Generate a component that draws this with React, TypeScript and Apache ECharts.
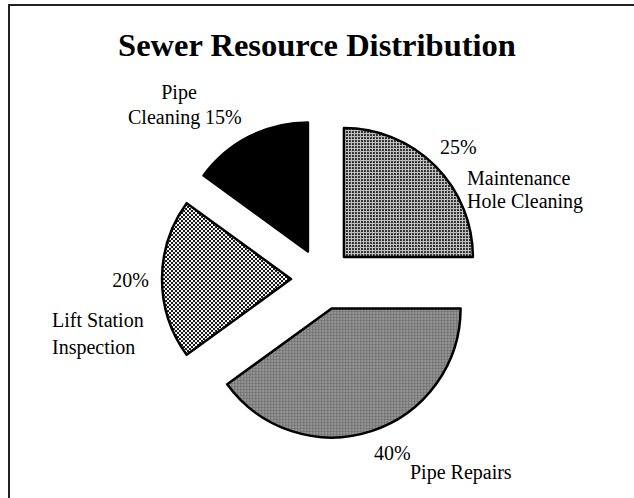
import React, { useEffect, useRef } from "react";
import * as echarts from "echarts";

const categories = [
  "Maintenance Hole Cleaning",
  "Pipe Repairs",
  "Lift Station Inspection",
  "Pipe Cleaning",
];
const values = [25, 40, 20, 15];
const nameLines = [
  ["Maintenance", "Hole Cleaning"],
  ["Pipe Repairs"],
  ["Lift Station", "Inspection"],
  ["Pipe", "Cleaning"],
];

const FONT = "'Liberation Serif', 'Times New Roman', serif";

// label placement: percent anchor, name line anchors [x, y, align]
const pctPos: [number, number, string][] = [
  [440, 147, "left"],
  [374, 453, "left"],
  [149, 280, "right"],
  [205, 117, "left"],
];
const namePos: [number, number, string][][] = [
  [[467, 178, "left"], [467, 201, "left"]],
  [[410, 472, "left"]],
  [[52, 320, "left"], [52, 347, "left"]],
  [[179, 92, "center"], [128, 117, "left"]],
];

function makePattern(size: number, pixel: (x: number, y: number) => string) {
  const c = document.createElement("canvas");
  c.width = size;
  c.height = size;
  const ctx = c.getContext("2d")!;
  for (let y = 0; y < size; y++) {
    for (let x = 0; x < size; x++) {
      ctx.fillStyle = pixel(x, y);
      ctx.fillRect(x, y, 1, 1);
    }
  }
  return { image: c, repeat: "repeat", imageWidth: size, imageHeight: size };
}

export default function App() {
  const ref = useRef<HTMLDivElement>(null);
  useEffect(() => {
    if (!ref.current) return;
    const chart = echarts.init(ref.current, null, { renderer: "svg" });

    const patterns: any[] = [
      makePattern(3, (x, y) => (x === 2 || y === 2 ? "#c8c8c8" : "#2a2a2a")),
      makePattern(3, (x, y) => (x === 1 && y === 1 ? "#b8b8b8" : (x + y) % 2 === 0 ? "#707070" : "#8c8c8c")),
      makePattern(4, (x, y) => ((Math.floor(x / 2) + Math.floor(y / 2)) % 2 === 0 ? "#1a1a1a" : "#f4f4f4")),
      "#000000",
    ];

    const total = values.reduce((a, b) => a + b, 0);
    const font = `20px ${FONT}`;
    const texts: any[] = [];
    values.forEach((v, i) => {
      const pct = Math.round((v / total) * 100);
      const [px, py, pa] = pctPos[i];
      texts.push({
        type: "text",
        silent: true,
        style: { text: `${pct}%`, x: px, y: py, font, fill: "#000", textAlign: pa, textVerticalAlign: "middle" },
      });
      nameLines[i].forEach((line, j) => {
        const [nx, ny, na] = namePos[i][j];
        texts.push({
          type: "text",
          silent: true,
          style: { text: line, x: nx, y: ny, font, fill: "#000", textAlign: na, textVerticalAlign: "middle" },
        });
      });
    });

    const data = categories.map((name, i) => ({
      name,
      value: values[i],
      selected: true,
      itemStyle: { color: patterns[i], borderColor: "#000", borderWidth: 2.5 },
    }));

    chart.setOption({
      animation: false,
      backgroundColor: "#fff",
      title: {
        text: "Sewer Resource Distribution",
        left: "center",
        top: 23,
        textStyle: { fontFamily: FONT, fontWeight: "bold", fontSize: 32.5, color: "#000" },
      },
      graphic: [
        {
          type: "rect",
          shape: { x: 9, y: 5, width: 700, height: 600 },
          style: { fill: "none", stroke: "#222", lineWidth: 2 },
          silent: true,
        },
        ...texts,
      ],
      series: [
        {
          type: "pie",
          center: [322, 279],
          radius: 129,
          startAngle: 90,
          clockwise: true,
          selectedMode: "multiple",
          selectedOffset: 31,
          avoidLabelOverlap: false,
          emphasis: { disabled: true },
          labelLine: { show: false },
          label: { show: false },
          data,
        },
      ],
    });
    return () => chart.dispose();
  }, []);
  return (
    <div
      ref={ref}
      style={{ position: "fixed", left: 0, top: 0, width: 634, height: 498 }}
    />
  );
}
